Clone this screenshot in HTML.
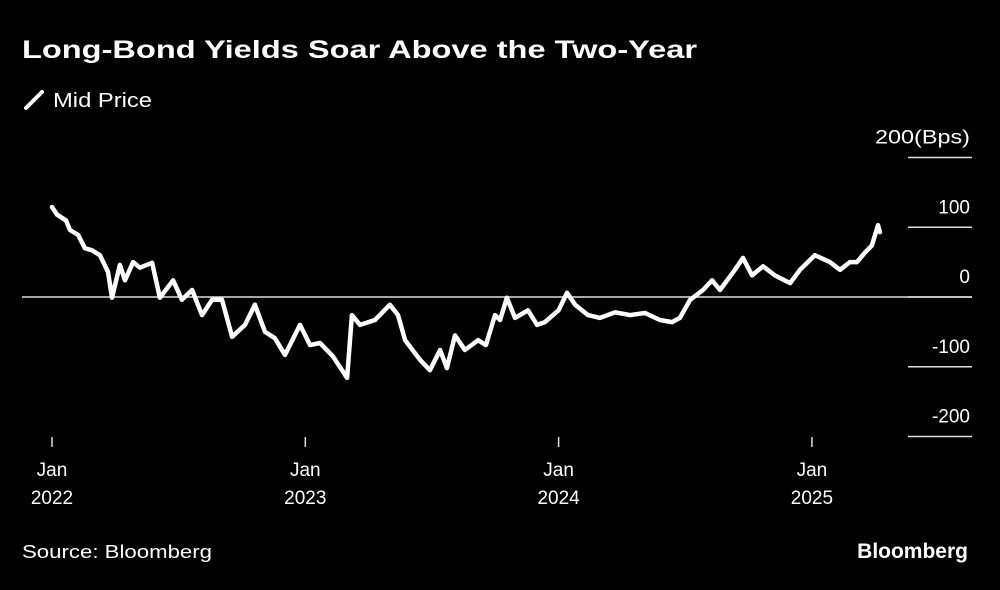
<!DOCTYPE html>
<html><head><meta charset="utf-8"><style>
body{margin:0;background:#000;}
svg text{font-family:"Liberation Sans",sans-serif;fill:#fff;}
</style></head><body>
<svg width="1000" height="585" viewBox="0 0 1000 585">
<rect width="1000" height="585" fill="#000"/>
<text x="22" y="58" font-size="25" font-weight="bold" textLength="675" lengthAdjust="spacingAndGlyphs">Long-Bond Yields Soar Above the Two-Year</text>
<line x1="26" y1="108" x2="42" y2="92" stroke="#fff" stroke-width="4" stroke-linecap="round"/>
<text x="53" y="107" font-size="20" fill="#ddd" textLength="99" lengthAdjust="spacingAndGlyphs">Mid Price</text>
<g id="yaxis"></g><g id="xaxis"></g>
<line x1="22" y1="297" x2="972" y2="297" stroke="#ddd" stroke-width="1.5" id="zero"/>
<path id="series" fill="none" stroke="#fff" stroke-width="4.5" stroke-linejoin="round" stroke-linecap="round"/>
<text x="22" y="558" font-size="18" fill="#ddd" textLength="190" lengthAdjust="spacingAndGlyphs">Source: Bloomberg</text>
<text x="968" y="558" font-size="21" font-weight="bold" text-anchor="end">Bloomberg</text>
</svg>
<script>
const dates=[2022.00,2022.02,2022.055,2022.071,2022.103,2022.130,2022.158,2022.189,2022.221,2022.237,2022.268,2022.288,2022.320,2022.347,2022.395,2022.426,2022.478,2022.513,2022.553,2022.592,2022.632,2022.671,2022.711,2022.762,2022.801,2022.841,2022.880,2022.920,2022.979,2023.019,2023.058,2023.109,2023.165,2023.184,2023.216,2023.275,2023.334,2023.366,2023.394,2023.453,2023.492,2023.532,2023.559,2023.591,2023.630,2023.682,2023.713,2023.749,2023.769,2023.796,2023.828,2023.879,2023.915,2023.946,2024.000,2024.033,2024.065,2024.116,2024.163,2024.223,2024.282,2024.341,2024.400,2024.448,2024.479,2024.519,2024.570,2024.606,2024.637,2024.696,2024.728,2024.764,2024.807,2024.854,2024.914,2024.953,2025.012,2025.071,2025.111,2025.150,2025.178,2025.210,2025.237,2025.261,2025.269];
const values=[129,118,110,96,89,70,67,60,36,-1,46,24,50,42,49,-1,24,-4,10,-26,-4,-4,-57,-40,-11,-50,-59,-83,-40,-69,-66,-85,-116,-26,-40,-33,-11,-26,-62,-90,-105,-76,-102,-55,-76,-62,-69,-26,-33,-1,-30,-19,-40,-36,-19,6,-11,-26,-30,-22,-26,-23,-33,-36,-30,-4,10,24,10,39,56,31,44,31,20,39,60,50,39,50,50,64,74,103,93];
const yTicks=[200,100,0,-100,-200];
const yTickLabels=["200(Bps)","100","0","-100","-200"];
const xTicks=[2022,2023,2024,2025];
const xTickLabels=["2022","2023","2024","2025"];
const NS="http://www.w3.org/2000/svg";
const X=t=>52+(t-2022)*253.3;
const Y=v=>297-v*0.6975;
const ya=document.getElementById('yaxis'),xa=document.getElementById('xaxis');
yTicks.forEach((v,i)=>{
 const l=document.createElementNS(NS,'line');
 l.setAttribute('x1',908);l.setAttribute('x2',972);l.setAttribute('y1',Y(v));l.setAttribute('y2',Y(v));
 l.setAttribute('stroke','#ddd');l.setAttribute('stroke-width','1.5');
 
 
 ya.appendChild(l);
 const t=document.createElementNS(NS,'text');
 t.setAttribute('x',970);t.setAttribute('y',Y(v)-14);t.setAttribute('text-anchor','end');t.setAttribute('font-size','19');t.setAttribute('fill','#ddd');
 if(i===0){t.setAttribute('textLength','95');t.setAttribute('lengthAdjust','spacingAndGlyphs');}
 t.textContent=yTickLabels[i];
 
 
 ya.appendChild(t);
});
xTicks.forEach((v,i)=>{
 const l=document.createElementNS(NS,'line');
 l.setAttribute('x1',X(v));l.setAttribute('x2',X(v));l.setAttribute('y1',437);l.setAttribute('y2',447);
 l.setAttribute('stroke','#ddd');l.setAttribute('stroke-width','1.5');
 
 
 xa.appendChild(l);
 [["Jan",476],[xTickLabels[i],504]].forEach(([s,y])=>{
  const t=document.createElementNS(NS,'text');
  t.setAttribute('x',X(v));t.setAttribute('y',y);t.setAttribute('text-anchor','middle');t.setAttribute('font-size','19');t.setAttribute('fill','#ddd');
  t.textContent=s;
  
  
  xa.appendChild(t);
 });
});
document.getElementById('series').setAttribute('d',dates.map((d,i)=>(i?'L':'M')+X(d).toFixed(1)+','+Y(values[i]).toFixed(1)).join(' '));
</script>
</body></html>
